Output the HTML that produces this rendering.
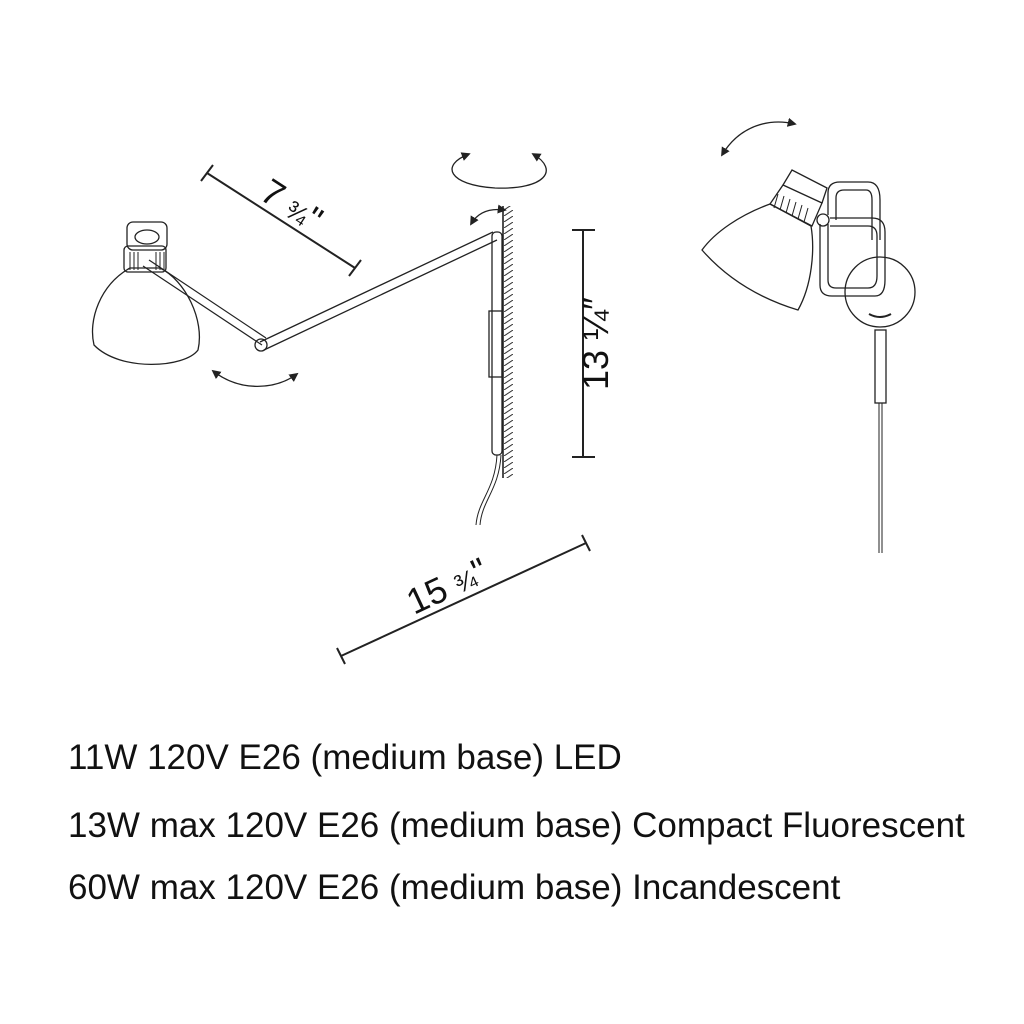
<!DOCTYPE html>
<html><head><style>
body{margin:0;background:#fff;width:1024px;height:1024px;overflow:hidden}
svg{position:absolute;left:0;top:0}
.t{position:absolute;left:68px;font-family:"Liberation Sans",sans-serif;font-size:35px;color:#111;white-space:nowrap}
</style></head><body>
<svg width="1024" height="1024" viewBox="0 0 1024 1024" fill="none" stroke="#222" stroke-width="1.3">
<defs>
<marker id="a" viewBox="0 0 10 10" refX="8" refY="5" markerWidth="7" markerHeight="7" orient="auto-start-reverse"><path d="M0,0L10,5L0,10z" fill="#222" stroke="none"/></marker>
<pattern id="h" width="9" height="6" patternUnits="userSpaceOnUse"><path d="M0,6L9,0" stroke="#333" stroke-width="1"/></pattern>
</defs>
<!-- left lamp shade -->
<path d="M130,268 C100,285 88,320 94,345 C120,372 185,368 198,350 C205,320 185,280 160,268 Z"/>
<rect x="124" y="246" width="42" height="26" rx="4"/>
<rect x="127" y="222" width="40" height="28" rx="6"/>
<ellipse cx="147" cy="237" rx="12" ry="7"/>
<g stroke-width="1">
<path d="M130,252v18M134,252v18M138,252v18M156,252v18M160,252v18M164,252v18"/></g>
<!-- arms -->
<path d="M143,266 L262,345 M149,260 L266,338" stroke-width="1.2"/>
<circle cx="261" cy="345" r="6"/>
<path d="M260,342 L493,232 M264,350 L497,240"/>
<rect x="492" y="232" width="10" height="223" rx="4"/>
<rect x="489" y="311" width="13" height="66"/>
<!-- wall -->
<path d="M503,206 V478" stroke-width="1.6"/>
<rect x="504" y="206" width="9" height="272" fill="url(#h)" stroke="none"/>
<path d="M497,455 C495,490 478,500 476,525 M501,455 C499,490 482,500 480,525" stroke-width="1"/>
<!-- dims -->
<g stroke-width="2">
<path d="M207,173 L355,268 M201,181 L213,165 M349,276 L361,260"/>
<path d="M583,230 V457 M572,230 H595 M572,457 H595"/>
<path d="M341,656 L586,543 M337,648 L345,664 M582,535 L590,551"/>
</g>
<g fill="#111" stroke="none" font-family="Liberation Sans,sans-serif">
<text x="258" y="198" font-size="36" transform="rotate(33 258 198)">7 <tspan font-size="26">¾</tspan>"</text>
<text x="608" y="390" font-size="36" transform="rotate(-90 608 390)">13 ¼″</text>
<text x="414" y="615" font-size="36" transform="rotate(-25 414 615)">15 <tspan font-size="26">¾</tspan>"</text>
</g>
<!-- rotation arrows -->
<path d="M469,154 C440,165 448,185 495,188 C545,190 560,170 533,154" marker-start="url(#a)" marker-end="url(#a)"/>
<path d="M471,224 C478,212 490,208 505,210" marker-start="url(#a)" marker-end="url(#a)"/>
<path d="M213,371 C240,392 275,390 297,374" marker-start="url(#a)" marker-end="url(#a)"/>
<path d="M722,155 C740,125 770,118 795,124" marker-start="url(#a)" marker-end="url(#a)"/>
<!-- right lamp -->
<path d="M770,204 C740,215 715,232 702,250 C730,282 765,300 798,310 C812,285 815,250 811,226 Z"/>
<path d="M770,204 L783,185 L822,203 L812,226 Z"/>
<path d="M783,185 L792,170 L827,188 L822,203"/>
<g stroke-width="1"><path d="M778,194l-4,14M784,196l-4,14M790,199l-4,14M796,202l-4,14M802,205l-4,14M808,208l-4,14"/></g>
<circle cx="823" cy="220" r="6"/>
<path d="M828,215 V193 Q828,182 840,182 H868 Q880,182 880,200 V240 M836,220 V198 Q836,190 844,190 H866 Q872,190 872,200 V240"/>
<path d="M820,224 V285 Q820,296 832,296 H875 Q885,296 885,280 V232 Q885,218 872,218 H830 M828,224 V280 Q828,288 836,288 H868 Q877,288 877,276 V236 Q877,226 868,226 H830"/>
<circle cx="880" cy="292" r="35"/>
<path d="M869,314 Q880,320 891,314" stroke-width="2"/>
<rect x="875" y="330" width="11" height="73"/>
<path d="M879,403 V553 M882,403 V553" stroke-width="1"/>
</svg>
<div class="t" style="top:738px">11W 120V E26 (medium base) LED</div>
<div class="t" style="top:806px">13W max 120V E26 (medium base) Compact Fluorescent</div>
<div class="t" style="top:868px">60W max 120V E26 (medium base) Incandescent</div>
</body></html>
